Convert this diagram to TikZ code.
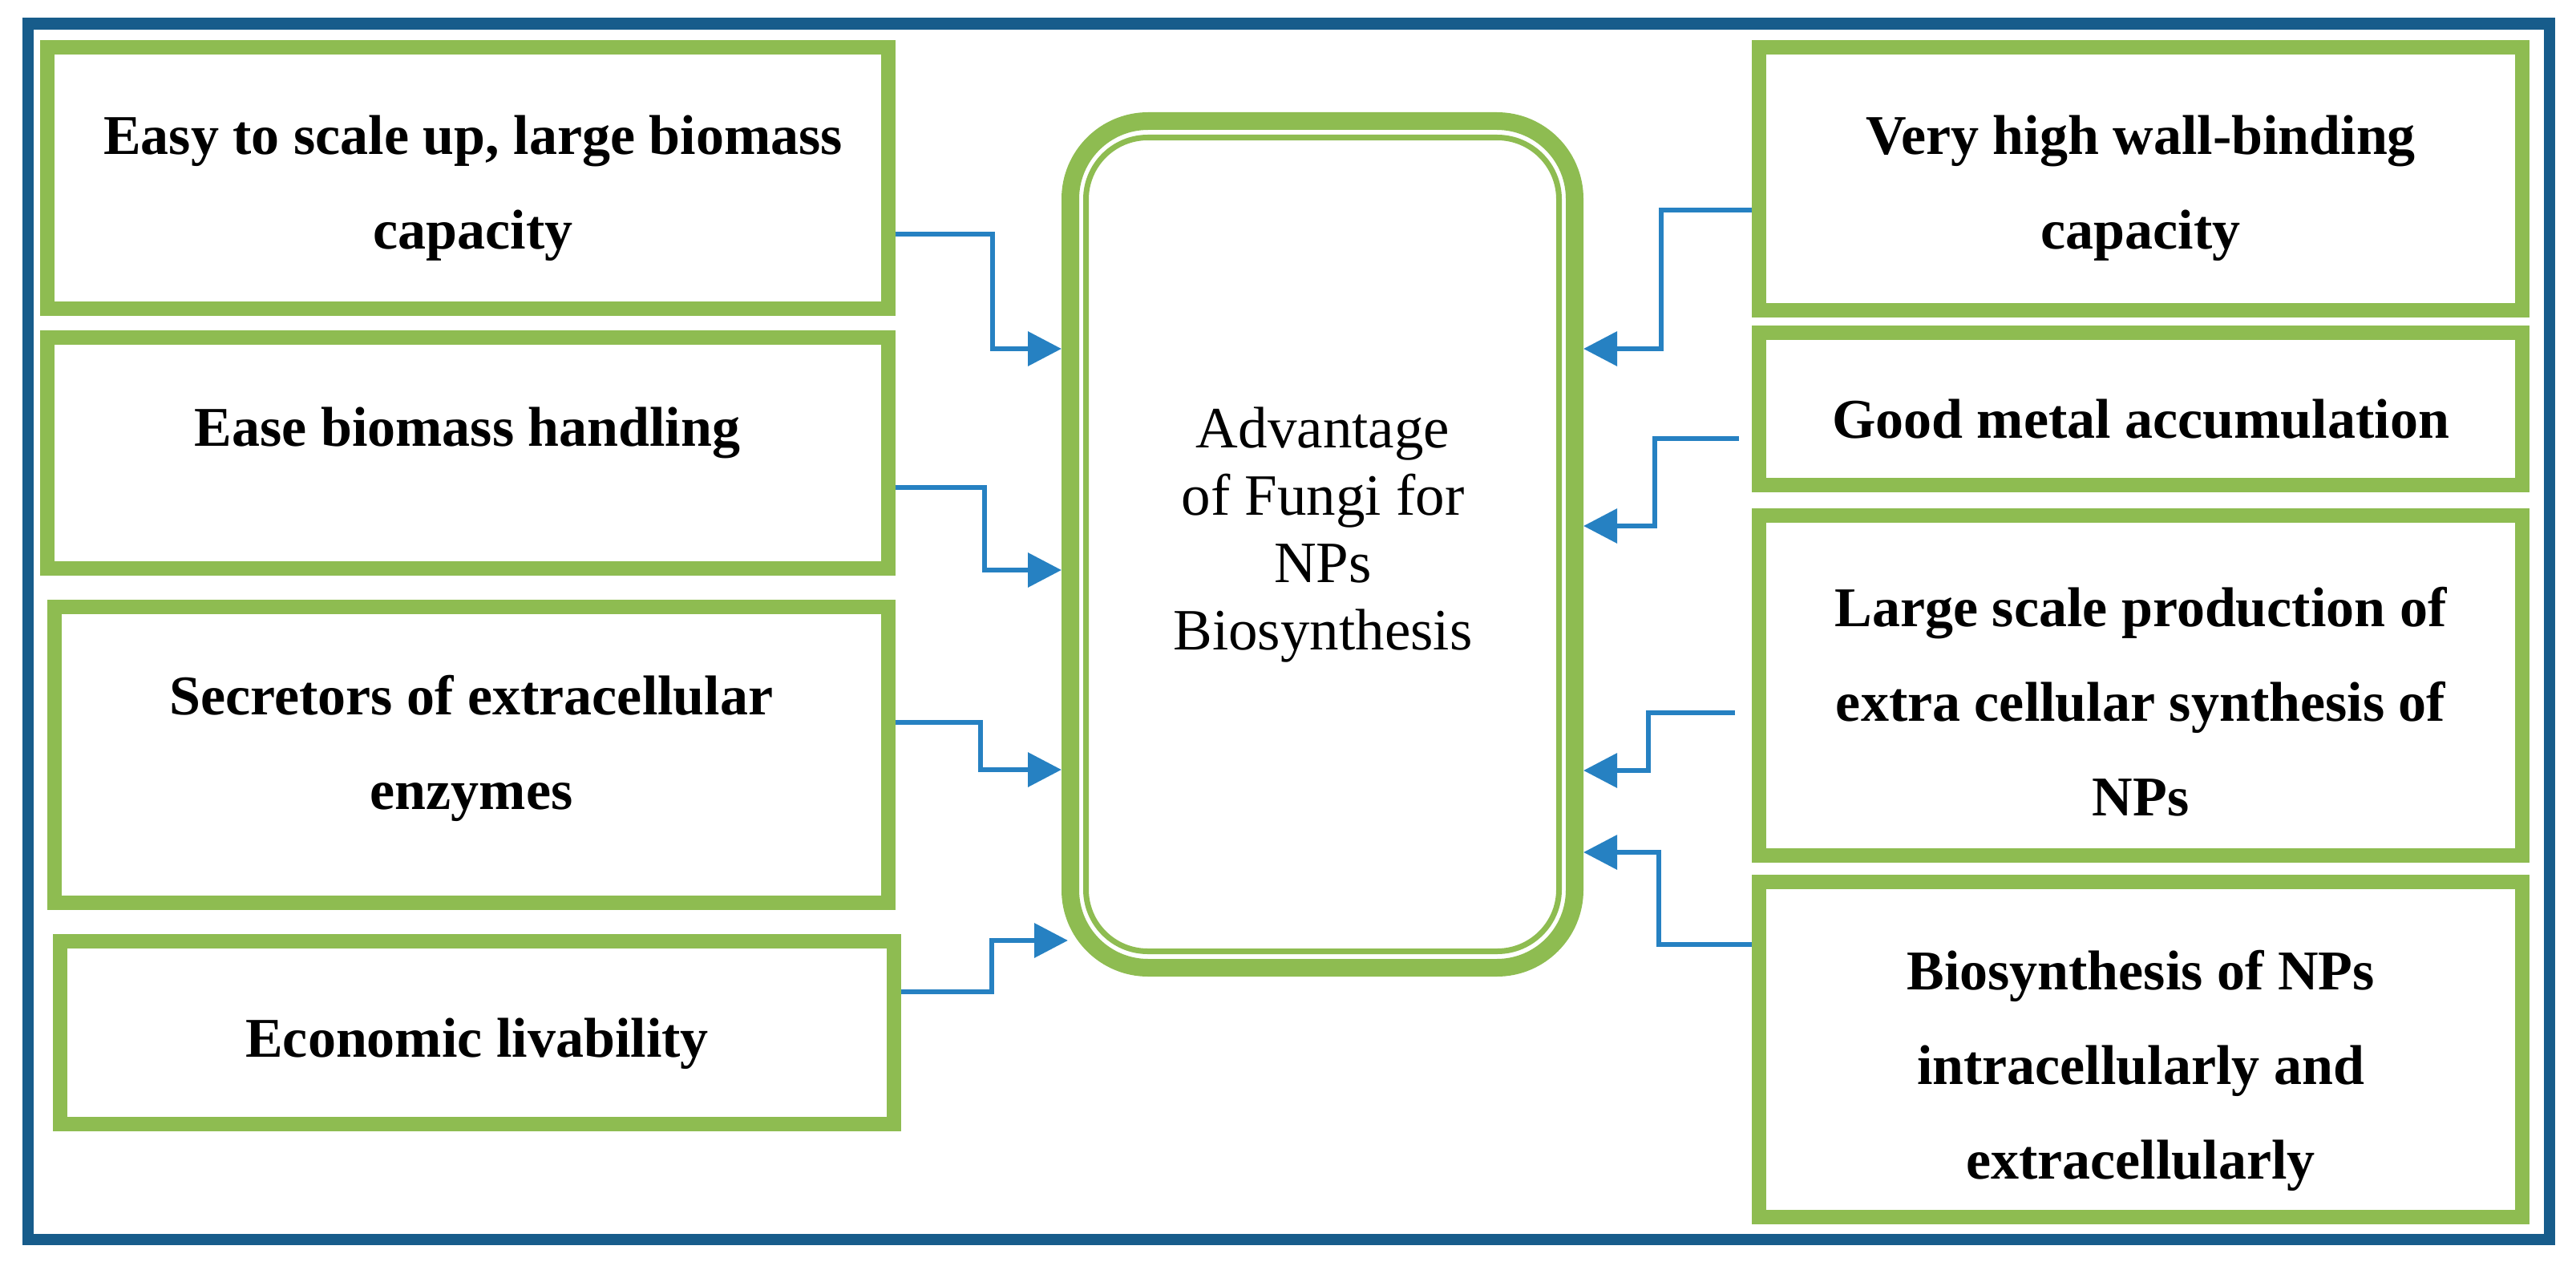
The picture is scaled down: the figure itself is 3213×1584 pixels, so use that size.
\documentclass[tikz,border=0pt]{standalone}
\usepackage{fontspec}
\setmainfont{Liberation Serif}
\usetikzlibrary{arrows.meta}
\definecolor{frameblue}{HTML}{175C8B}
\definecolor{boxgreen}{HTML}{8EBC51}
\definecolor{arrowblue}{HTML}{2681C2}
\begin{document}
\begin{tikzpicture}[x=1pt,y=-1pt,
  frm/.style={draw=frameblue, line width=14.5pt, rectangle, inner sep=0pt},
  gbox/.style={draw=boxgreen, line width=18pt, rectangle, inner sep=0pt, fill=white},
  cbox/.style={draw=boxgreen, line width=22pt, rectangle, rounded corners=97pt, inner sep=0pt, fill=white},
  cinner/.style={draw=boxgreen, line width=7pt, rectangle, rounded corners=77pt, inner sep=0pt},
  btxt/.style={font=\fontsize{70}{118}\selectfont\bfseries, align=center, inner sep=0pt},
  ctxt/.style={font=\fontsize{73}{84}\selectfont, align=center, inner sep=0pt},
  conn/.style={draw=arrowblue, line width=6.5pt, -{Triangle[length=42pt,width=42pt]}}
]
\useasboundingbox (0,0) rectangle (3213,1584);

% outer frame
\node[frm, minimum width=3145pt, minimum height=1516.5pt] (frame) at (1607.5,787.75) {};

% left boxes
\node[gbox, minimum width=1049pt, minimum height=326pt] (l1) at (583,222) {};
\node[gbox, minimum width=1049pt, minimum height=288pt] (l2) at (583,565) {};
\node[gbox, minimum width=1039.5pt, minimum height=369pt] (l3) at (587.75,941.5) {};
\node[gbox, minimum width=1040pt, minimum height=228pt] (l4) at (595,1288) {};

% right boxes
\node[gbox, minimum width=952pt, minimum height=328pt] (r1) at (2670,223) {};
\node[gbox, minimum width=952pt, minimum height=190pt] (r2) at (2670,510) {};
\node[gbox, minimum width=952pt, minimum height=424pt] (r3) at (2670,855) {};
\node[gbox, minimum width=952pt, minimum height=418pt] (r4) at (2670,1309) {};

% center box
\node[cbox, minimum width=629pt, minimum height=1056pt] (c) at (1649.5,679) {};
\node[cinner, minimum width=590pt, minimum height=1015pt] (ci) at (c.center) {};

% texts
\node[btxt] (l1t) at (590,234.5) {Easy to scale up, large biomass\\capacity};
\node[btxt] (l2t) at (583,539.5) {Ease biomass handling};
\node[btxt] (l3t) at (588,933.5) {Secretors of extracellular\\enzymes};
\node[btxt] (l4t) at (595,1301.5) {Economic livability};
\node[btxt] (r1t) at (2670,234.5) {Very high wall-binding\\capacity};
\node[btxt] (r2t) at (2670,523) {Good metal accumulation};
\node[btxt] (r3t) at (2670,875.5) {Large scale production of\\extra cellular synthesis of\\NPs};
\node[btxt] (r4t) at (2670,1335.5) {Biosynthesis of NPs\\intracellularly and\\extracellularly};
\node[ctxt] (ct) at (1650,667) {Advantage\\of Fungi for\\NPs\\Biosynthesis};

% connectors
\draw[conn] ([yshift=-70pt]l1.east) -- ++(121.5,0) |- ([yshift=244pt]c.west);
\draw[conn] ([yshift=-43pt]l2.east) -- ++(111.5,0) |- ([yshift=-32pt]c.west);
\draw[conn] ([yshift=40.5pt]l3.east) -- ++(106.5,0) |- ([yshift=-281pt]c.west);
\draw[conn] ([yshift=51pt]l4.east) -- ++(113,0) |- ([xshift=8pt,yshift=-494pt]c.west);

\draw[conn] ([yshift=-39pt]r1.west) -- ++(-113,0) |- ([yshift=244pt]c.east);
\draw[conn] ([xshift=-16pt,yshift=-37pt]r2.west) -- ++(-105,0) |- ([yshift=23pt]c.east);
\draw[conn] ([xshift=-21pt,yshift=-34pt]r3.west) -- ++(-108,0) |- ([yshift=-282pt]c.east);
\draw[conn] ([yshift=131pt]r4.west) -- ++(-116,0) |- ([yshift=-384pt]c.east);
\end{tikzpicture}
\end{document}
